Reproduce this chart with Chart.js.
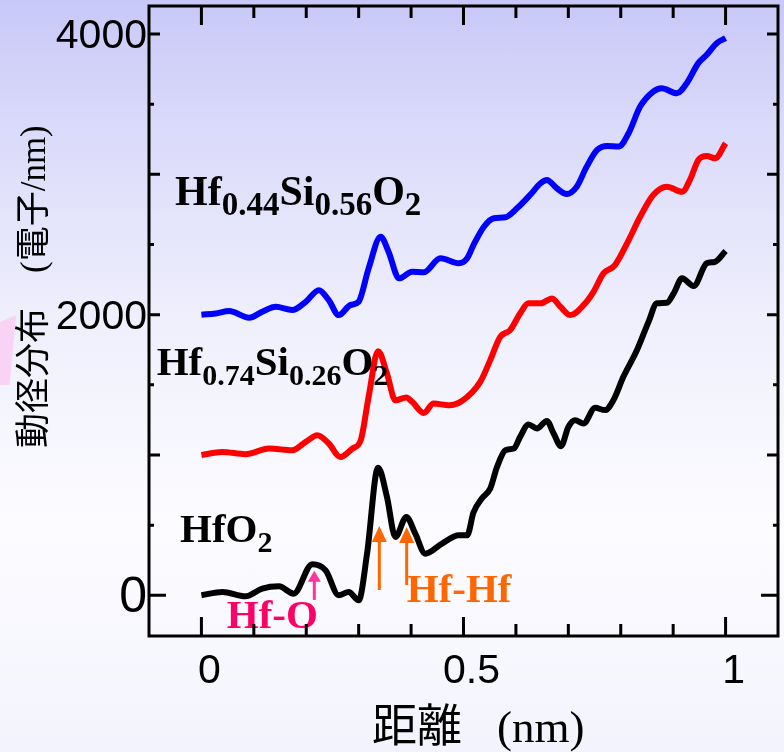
<!DOCTYPE html>
<html>
<head>
<meta charset="utf-8">
<script src="https://cdn.jsdelivr.net/npm/chart.js@4"></script>
<style>
  html, body { margin: 0; padding: 0; }
  body {
    width: 784px; height: 752px; overflow: hidden; position: relative;
    background: linear-gradient(to bottom,
      rgb(200,200,248) 0%, rgb(218,218,250) 17%, rgb(228,228,251) 29%,
      rgb(240,240,253) 44%, rgb(252,252,255) 70%, rgb(243,243,253) 100%);
  }
  #streak {
    position: absolute; left: 0; top: 315px; width: 16px; height: 70px;
    background: #f9d3f5;
    clip-path: polygon(0 10%, 100% 0, 60% 100%, 0 100%);
  }
  canvas { position: absolute; left: 0; top: 0; }
</style>
</head>
<body>
<div id="streak"></div>
<canvas id="rdf" width="784" height="752"></canvas>
<script>
// radial distribution (x in nm, y in electrons/nm)
const xHfO2 = [0, 0.040, 0.084, 0.116, 0.148, 0.176, 0.2115, 0.237, 0.262, 0.281, 0.300, 0.316, 0.337, 0.354,
  0.370, 0.391, 0.408, 0.427, 0.459, 0.491, 0.507, 0.519, 0.535, 0.551, 0.564, 0.580, 0.596, 0.608, 0.624,
  0.640, 0.659, 0.672, 0.686, 0.700, 0.713, 0.729, 0.751, 0.770, 0.786, 0.805, 0.831, 0.853, 0.869, 0.888,
  0.901, 0.917, 0.939, 0.964, 0.980, 1.0];
const yHfO2 = [0, 24, -7, 48, 64, 12, 222, 178, 0, 24, -36, 297, 910, 701, 416, 558, 440, 297, 369, 428,
  428, 590, 690, 761, 915, 1034, 1046, 1129, 1218, 1189, 1243, 1153, 1063, 1200, 1248, 1225, 1336, 1320,
  1391, 1557, 1748, 1949, 2081, 2085, 2152, 2259, 2204, 2366, 2377, 2454];

const xHf74 = [0, 0.040, 0.084, 0.129, 0.173, 0.199, 0.221, 0.243, 0.265, 0.288, 0.304, 0.319, 0.337, 0.354,
  0.370, 0.391, 0.402, 0.424, 0.443, 0.472, 0.497, 0.532, 0.551, 0.570, 0.589, 0.608, 0.624, 0.647, 0.669,
  0.685, 0.704, 0.729, 0.748, 0.767, 0.789, 0.812, 0.837, 0.862, 0.888, 0.917, 0.932, 0.948, 0.964, 0.980, 1.0];
const yHf74 = [1000, 1022, 1006, 1046, 1034, 1093, 1141, 1082, 986, 1046, 1106, 1414, 1740, 1581,
  1390, 1410, 1379, 1300, 1367, 1355, 1385, 1521, 1676, 1842, 1890, 2009, 2081, 2081, 2116,
  2056, 1997, 2068, 2163, 2294, 2354, 2508, 2698, 2853, 2912, 2876, 2960, 3103, 3131, 3115, 3222];

const xHf44 = [0, 0.027, 0.053, 0.091, 0.116, 0.142, 0.173, 0.199, 0.224, 0.243, 0.262, 0.284, 0.300, 0.319,
  0.342, 0.357, 0.377, 0.402, 0.424, 0.456, 0.491, 0.507, 0.519, 0.539, 0.558, 0.580, 0.602, 0.627, 0.647,
  0.659, 0.678, 0.697, 0.716, 0.735, 0.755, 0.774, 0.796, 0.815, 0.837, 0.862, 0.878, 0.907, 0.926, 0.948,
  0.964, 0.983, 1.0];
const yHf44 = [2000, 2009, 2026, 1978, 2021, 2056, 2033, 2092, 2175, 2104, 1997, 2068, 2092, 2330,
  2555, 2449, 2259, 2306, 2302, 2402, 2366, 2402, 2496, 2627, 2687, 2694, 2758, 2853, 2937,
  2960, 2901, 2860, 2912, 3055, 3174, 3203, 3198, 3293, 3483, 3590, 3614, 3578, 3650, 3793,
  3852, 3935, 3971];

const xTickLabels = [0, 0.5, 1];
const yTickLabels = [0, 2000, 4000];

const toPoints = (xs, ys) => xs.map((x, i) => ({ x: x, y: ys[i] }));

// chemical formulas next to each curve, anchored in data units (left edge, baseline)
const formulas = [
  { parts: [['Hf', 0], ['0.44', 1], ['Si', 0], ['0.56', 1], ['O', 0], ['2', 1]], x: -0.0504, y: 2782, main: 42, sub: 33 },
  { parts: [['Hf', 0], ['0.74', 1], ['Si', 0], ['0.26', 1], ['O', 0], ['2', 1]], x: -0.0853, y: 1570, main: 41, sub: 30 },
  { parts: [['HfO', 0], ['2', 1]], x: -0.0408, y: 382, main: 41, sub: 30 }
];
const peakLabels = [
  { text: 'Hf-O', color: '#ff0066', x: 0.0483, y: -233 },
  { text: 'Hf-Hf', color: '#ff6600', x: 0.3916, y: -46 }
];
const arrows = [
  { x: 0.2154, from: -33, to: 175, color: '#ff3399', headW: 13, headL: 11 },
  { x: 0.3394, from: 38, to: 494, color: '#ff6600', headW: 15, headL: 16 },
  { x: 0.3916, from: 73, to: 487, color: '#ff6600', headW: 15, headL: 16 }
];

const frameTicks = {
  id: 'frameTicks',
  afterDraw(chart) {
    const { ctx, chartArea: a, scales: { x, y } } = chart;
    ctx.save();
    ctx.strokeStyle = '#000';
    ctx.lineWidth = 3;
    ctx.strokeRect(a.left, a.top, a.right - a.left, a.bottom - a.top);
    ctx.beginPath();
    for (let i = 0; i <= 10; i++) {
      const px = x.getPixelForValue(i / 10);
      const len = i % 5 === 0 ? 19 : 12;
      ctx.moveTo(px, a.bottom); ctx.lineTo(px, a.bottom - len);
      ctx.moveTo(px, a.top); ctx.lineTo(px, a.top + len);
    }
    for (let v = 0; v <= 4000; v += 500) {
      const py = y.getPixelForValue(v);
      const len = v === 0 ? 17 : (v % 1000 === 0 ? 11 : 5);
      ctx.moveTo(a.left, py); ctx.lineTo(a.left + len, py);
      ctx.moveTo(a.right, py); ctx.lineTo(a.right - len, py);
    }
    ctx.stroke();

    // axis titles (CJK in gothic, latin in serif)
    ctx.fillStyle = '#000';
    ctx.textAlign = 'left';
    ctx.textBaseline = 'alphabetic';
    ctx.font = '45px "Noto Sans CJK JP"';
    ctx.fillText('距離', 372, 742);
    ctx.font = '45px "Liberation Serif"';
    ctx.fillText('(nm)', 497, 742);

    ctx.translate(36, 448);
    ctx.rotate(-Math.PI / 2);
    ctx.textBaseline = 'middle';
    ctx.font = '35px "Liberation Serif", "Noto Sans CJK JP"';
    ctx.fillText('動径分布\u3000(電子/nm)', 0, 0);
    ctx.restore();
  }
};

const annotations = {
  id: 'annotations',
  afterDatasetsDraw(chart) {
    const { ctx, scales: { x, y } } = chart;
    ctx.save();
    ctx.textAlign = 'left';
    ctx.textBaseline = 'alphabetic';

    arrows.forEach(a => {
      const px = x.getPixelForValue(a.x);
      const y0 = y.getPixelForValue(a.from);
      const y1 = y.getPixelForValue(a.to);
      ctx.strokeStyle = a.color;
      ctx.fillStyle = a.color;
      ctx.lineWidth = 3;
      ctx.beginPath();
      ctx.moveTo(px, y0);
      ctx.lineTo(px, y1 + a.headL - 1);
      ctx.stroke();
      ctx.beginPath();
      ctx.moveTo(px, y1);
      ctx.lineTo(px - a.headW / 2, y1 + a.headL);
      ctx.lineTo(px + a.headW / 2, y1 + a.headL);
      ctx.closePath();
      ctx.fill();
    });

    ctx.fillStyle = '#000';
    formulas.forEach(f => {
      let px = x.getPixelForValue(f.x);
      const py = y.getPixelForValue(f.y);
      f.parts.forEach(([txt, sub]) => {
        ctx.font = 'bold ' + (sub ? f.sub : f.main) + 'px "Liberation Serif"';
        ctx.fillText(txt, px, sub ? py + 10 : py);
        px += ctx.measureText(txt).width;
      });
    });

    ctx.font = 'bold 41px "Liberation Serif"';
    peakLabels.forEach(l => {
      ctx.fillStyle = l.color;
      ctx.fillText(l.text, x.getPixelForValue(l.x), y.getPixelForValue(l.y));
    });
    ctx.restore();
  }
};

new Chart(document.getElementById('rdf'), {
  type: 'line',
  data: {
    datasets: [
      { label: 'Hf0.44Si0.56O2', data: toPoints(xHf44, yHf44), borderColor: '#0000ff' },
      { label: 'Hf0.74Si0.26O2', data: toPoints(xHf74, yHf74), borderColor: '#ff0000' },
      { label: 'HfO2', data: toPoints(xHfO2, yHfO2), borderColor: '#000000' }
    ]
  },
  options: {
    responsive: false,
    animation: false,
    devicePixelRatio: 1,
    datasets: {
      line: { borderWidth: 6, pointRadius: 0, fill: false, cubicInterpolationMode: 'monotone', borderJoinStyle: 'round' }
    },
    layout: { padding: { top: 6, right: 6, left: 0, bottom: 0 } },
    plugins: { legend: { display: false }, tooltip: { enabled: false } },
    scales: {
      x: {
        type: 'linear', min: -0.1, max: 1.1,
        grid: { display: false, drawTicks: false }, border: { display: false },
        afterBuildTicks: s => { s.ticks = xTickLabels.map(v => ({ value: v })); },
        afterFit: s => { s.height = 116; s.paddingLeft = 0; s.paddingRight = 0; },
        ticks: {
          padding: 11, labelOffset: 8, color: '#000', maxRotation: 0, autoSkip: false,
          font: { family: 'Liberation Sans', size: 41 },
          callback: v => String(v)
        }
      },
      y: {
        type: 'linear', min: -290, max: 4200,
        grid: { display: false, drawTicks: false }, border: { display: false },
        afterBuildTicks: s => { s.ticks = yTickLabels.map(v => ({ value: v })); },
        afterFit: s => { s.width = 149; s.paddingTop = 0; s.paddingBottom = 0; },
        ticks: {
          padding: 2, labelOffset: 3, color: '#000', autoSkip: false,
          font: c => ({ family: 'Liberation Sans', size: c.tick && c.tick.value === 0 ? 50 : 41 }),
          callback: v => String(v)
        }
      }
    }
  },
  plugins: [frameTicks, annotations]
});
</script>
</body>
</html>
